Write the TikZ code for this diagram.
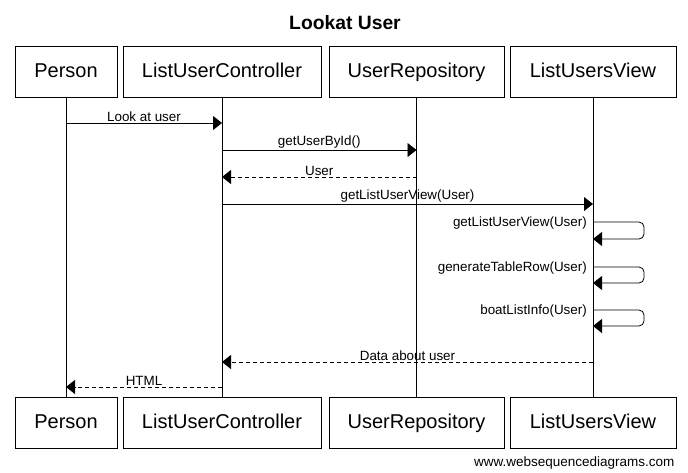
\documentclass[tikz,border=0pt]{standalone}
\usepackage{fontspec}
\setmainfont{Liberation Sans}
\usetikzlibrary{arrows.meta}

\tikzset{
  actor/.style={draw, line width=0.8pt, minimum height=51pt, inner sep=0pt,
    text height=14.5pt, text depth=3.5pt,
    font=\fontsize{20}{24}\selectfont},
  lifeline/.style={line width=0.8pt},
  msg/.style={line width=0.8pt, -{Triangle[length=9pt,width=14pt]}},
  reply/.style={msg, dash pattern=on 4pt off 3pt},
  lbl/.style={font=\fontsize{13.4}{16}\selectfont, inner sep=1pt}
}

\begin{document}
\begin{tikzpicture}[x=1pt,y=-1pt]
  \useasboundingbox (0,0) rectangle (688,472);

  \node[font=\bfseries\fontsize{19.3}{23}\selectfont] (title) at (345,23) {Lookat User};

  % actors at the top
  \node[actor, minimum width=102pt] (person) at (66,71.5) {Person};
  \node[actor, minimum width=198pt] (ctrl) at (222,71.5) {ListUserController};
  \node[actor, minimum width=175pt] (repo) at (416.5,71.5) {UserRepository};
  \node[actor, minimum width=166pt] (view) at (593,71.5) {ListUsersView};

  % actors at the bottom
  \node[actor, minimum width=102pt] (personB) at (66,423) {Person};
  \node[actor, minimum width=198pt] (ctrlB) at (222,423) {ListUserController};
  \node[actor, minimum width=175pt] (repoB) at (416.5,423) {UserRepository};
  \node[actor, minimum width=166pt] (viewB) at (593,423) {ListUsersView};

  % lifelines
  \draw[lifeline] (person) -- (personB);
  \draw[lifeline] (ctrl) -- (ctrlB);
  \draw[lifeline] (repo) -- (repoB);
  \draw[lifeline] (view) -- (viewB);

  % messages
  \draw[msg] (person |- 0,123) -- node[lbl, above] {Look at user} (ctrl |- 0,123);
  \draw[msg] (ctrl |- 0,150) -- node[lbl, above] {getUserById()} (repo |- 0,150);
  \draw[reply] (repo |- 0,177) -- node[lbl, above] {User} (ctrl |- 0,177);
  \draw[msg] (ctrl |- 0,204) -- node[lbl, above] {getListUserView(User)} (view |- 0,204);

  % self calls
  \draw[msg, rounded corners=5pt] (view |- 0,222) -- (644,222) -- (644,239) -- (view |- 0,239);
  \node[lbl, anchor=east] (selfA) at (588,223) {getListUserView(User)};
  \draw[msg, rounded corners=5pt] (view |- 0,267) -- (644,267) -- (644,283) -- (view |- 0,283);
  \node[lbl, anchor=east] (selfB) at (588,268) {generateTableRow(User)};
  \draw[msg, rounded corners=5pt] (view |- 0,310) -- (644,310) -- (644,326) -- (view |- 0,326);
  \node[lbl, anchor=east] (selfC) at (588,311) {boatListInfo(User)};

  % replies
  \draw[reply] (view |- 0,362) -- node[lbl, above] {Data about user} (ctrl |- 0,362);
  \draw[reply] (ctrl |- 0,387) -- node[lbl, above] {HTML} (person |- 0,387);

  \node[font=\fontsize{13.5}{16}\selectfont, anchor=east] (site) at (678,463) {www.websequencediagrams.com};
\end{tikzpicture}
\end{document}
